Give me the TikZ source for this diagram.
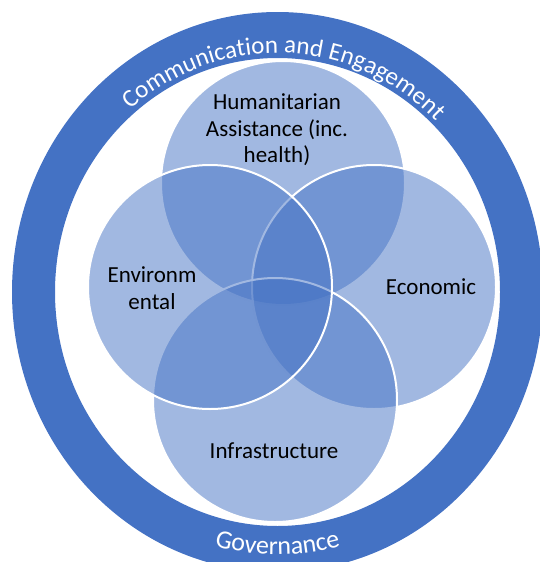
\documentclass[tikz,border=0pt]{standalone}
\usepackage{fontspec}
\setmainfont{Carlito}
\usetikzlibrary{decorations.text}
\definecolor{ringblue}{HTML}{4472C4}
\begin{document}
\begin{tikzpicture}[x=1pt,y=-1pt,
  venn/.style={circle, minimum size=244pt, inner sep=0pt, fill=ringblue, fill opacity=0.5, draw=white, line width=2pt},
  lbl/.style={font=\fontsize{23}{26.5}\selectfont, align=center, text=black, inner sep=0pt}]
\useasboundingbox (0,0) rectangle (540,562);
\coordinate (c) at (277.5,292);
% outer ring
\fill[ringblue, even odd rule] (c) ellipse [x radius=265.5pt, y radius=280pt]
  (c) ellipse [x radius=222.5pt, y radius=234pt];
% venn circles (drawing order: top, right, bottom, left)
\node[venn] (hum) at (283,183) {};
\node[venn] (eco) at (374,287) {};
\node[venn] (inf) at (275,400) {};
\node[venn] (env) at (210,287) {};
% labels
\node[lbl] (humt) at (277,130) {Humanitarian\\Assistance (inc.\\health)};
\node[lbl] (envt) at (152,288) {Environm\\ental};
\node[lbl] (ecot) at (431,287) {Economic};
\node[lbl] (inft) at (274,451) {Infrastructure};
% ring texts
\path (c) ++(168:227pt and 239pt) coordinate (ts);
\path[decorate, decoration={text along path, text align=center, text color=white,
  text={|\fontsize{25}{30}\selectfont|Communication and Engagement}}]
  (ts) arc[start angle=168, end angle=8, x radius=227pt, y radius=239pt];
\path (c) ++(200:250pt and 262.5pt) coordinate (bs);
\path[decorate, decoration={text along path, text align=center, text color=white,
  text={|\fontsize{26}{30}\selectfont|Governance}}]
  (bs) arc[start angle=200, end angle=340, x radius=250pt, y radius=262.5pt];
\end{tikzpicture}
\end{document}
